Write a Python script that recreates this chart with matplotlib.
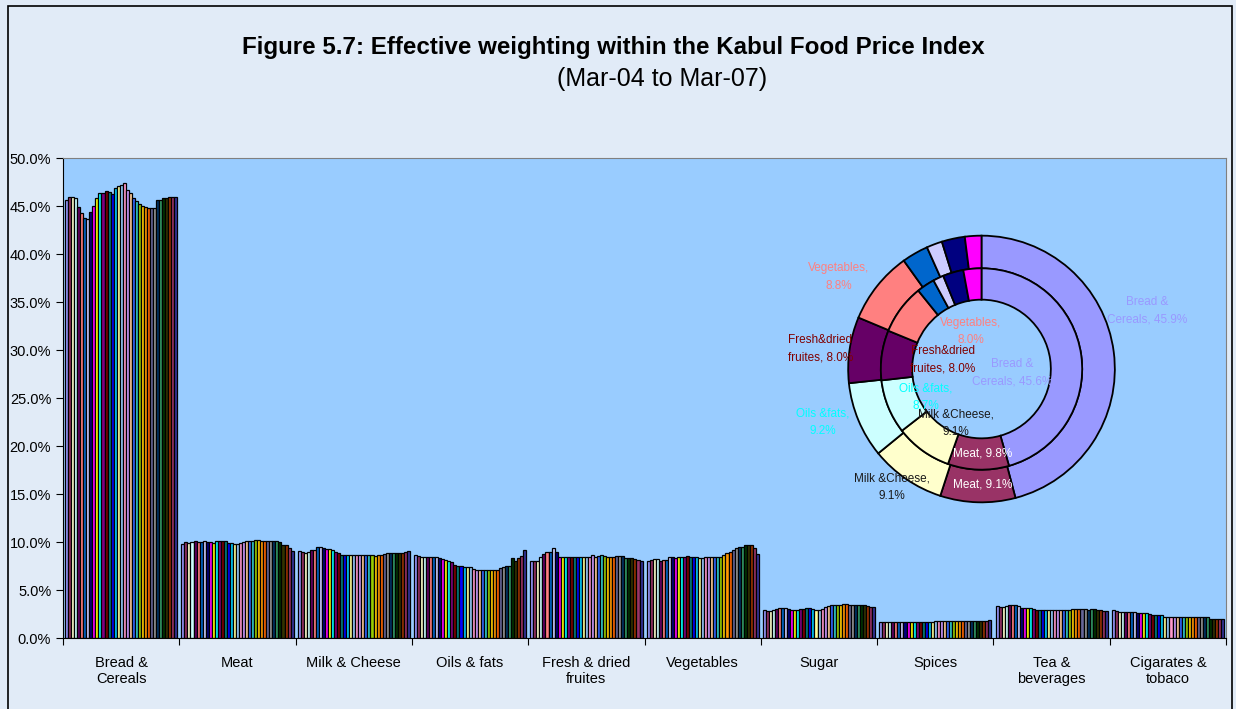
import numpy as np
import matplotlib
matplotlib.use("Agg")
from matplotlib import pyplot as plt
from matplotlib.patches import Rectangle
from matplotlib.ticker import FuncFormatter

plt.rcParams['font.family'] = ['Liberation Sans', 'DejaVu Sans']

categories = ["Bread &\nCereals", "Meat", "Milk & Cheese", "Oils & fats", "Fresh & dried\nfruites",
              "Vegetables", "Sugar", "Spices", "Tea &\nbeverages", "Cigarates &\ntobaco"]

# 37 monthly weights (Mar-04 .. Mar-07), in %
bread = [45.6, 46.0, 46.0, 45.8, 44.9, 44.3, 43.8, 43.7, 44.4, 45.0,
         45.8, 46.4, 46.4, 46.6, 46.5, 46.3, 46.9, 47.1, 47.2, 47.4,
         46.7, 46.4, 45.8, 45.5, 45.2, 45.0, 44.9, 44.8, 44.8, 44.8,
         45.6, 45.6, 45.8, 45.8, 45.9, 45.9, 45.9]
meat = [9.8, 10.0, 9.9, 10.0, 10.1, 10.0, 10.0, 10.1, 10.0, 10.0,
        9.9, 10.1, 10.1, 10.1, 10.1, 9.9, 9.9, 9.8, 9.8, 9.9,
        10.0, 10.1, 10.1, 10.1, 10.2, 10.2, 10.1, 10.1, 10.1, 10.1,
        10.1, 10.1, 10.0, 9.7, 9.7, 9.4, 9.1]
milk = [9.1, 9.0, 8.9, 9.0, 9.2, 9.2, 9.5, 9.5, 9.4, 9.3,
        9.3, 9.2, 9.0, 8.9, 8.7, 8.7, 8.7, 8.7, 8.7, 8.7,
        8.7, 8.7, 8.7, 8.7, 8.7, 8.6, 8.7, 8.7, 8.8, 8.9,
        8.9, 8.9, 8.9, 8.9, 8.9, 9.0, 9.1]
oils = [8.7, 8.6, 8.5, 8.5, 8.5, 8.5, 8.5, 8.4, 8.3, 8.2,
        8.1, 8.0, 7.9, 7.6, 7.5, 7.5, 7.4, 7.4, 7.4, 7.2,
        7.1, 7.1, 7.1, 7.1, 7.1, 7.1, 7.1, 7.1, 7.3, 7.4,
        7.5, 7.5, 8.3, 8.0, 8.3, 8.6, 9.2]
fresh = [8.0, 8.0, 8.0, 8.4, 8.8, 9.0, 9.0, 9.4, 9.0, 8.5,
         8.4, 8.4, 8.5, 8.5, 8.5, 8.5, 8.5, 8.5, 8.5, 8.5,
         8.7, 8.5, 8.6, 8.7, 8.6, 8.5, 8.4, 8.5, 8.6, 8.6,
         8.6, 8.3, 8.3, 8.3, 8.2, 8.1, 8.0]
veg = [8.0, 8.1, 8.2, 8.2, 8.0, 8.1, 8.1, 8.5, 8.4, 8.3,
       8.5, 8.5, 8.5, 8.6, 8.5, 8.5, 8.4, 8.3, 8.3, 8.4,
       8.4, 8.4, 8.5, 8.5, 8.5, 8.7, 8.9, 9.0, 9.2, 9.4,
       9.5, 9.5, 9.7, 9.7, 9.7, 9.4, 8.8]
sugar = [2.9, 2.8, 2.8, 2.9, 3.0, 3.1, 3.1, 3.1, 3.0, 2.9,
         2.9, 2.9, 3.0, 3.0, 3.1, 3.1, 3.0, 2.9, 2.9, 3.0,
         3.2, 3.3, 3.4, 3.4, 3.4, 3.5, 3.6, 3.6, 3.5, 3.5,
         3.5, 3.5, 3.4, 3.4, 3.3, 3.2, 3.2]
spices = [1.7, 1.7, 1.7, 1.7, 1.7, 1.7, 1.7, 1.7, 1.7, 1.7,
          1.7, 1.7, 1.7, 1.7, 1.7, 1.7, 1.7, 1.7, 1.8, 1.8,
          1.8, 1.8, 1.8, 1.8, 1.8, 1.8, 1.8, 1.8, 1.8, 1.8,
          1.8, 1.8, 1.8, 1.8, 1.8, 1.8, 1.9]
tea = [3.3, 3.2, 3.2, 3.3, 3.4, 3.4, 3.4, 3.3, 3.1, 3.1,
       3.1, 3.1, 3.0, 2.9, 2.9, 2.9, 2.9, 2.9, 2.9, 2.9,
       2.9, 2.9, 2.9, 2.9, 2.9, 3.0, 3.0, 3.0, 3.0, 3.0,
       2.9, 3.0, 3.0, 2.9, 2.9, 2.8, 2.8]
cig = [2.9, 2.8, 2.7, 2.7, 2.7, 2.7, 2.7, 2.7, 2.6, 2.6,
       2.6, 2.6, 2.5, 2.4, 2.4, 2.4, 2.4, 2.2, 2.2, 2.2,
       2.2, 2.2, 2.2, 2.2, 2.2, 2.2, 2.2, 2.2, 2.2, 2.2,
       2.2, 2.2, 2.0, 2.0, 2.0, 2.0, 2.0]

# excel-ish series palette
colors = ['#9999FF', '#993366', '#FFFFCC', '#CCFFFF', '#660066', '#FF8080', '#0066CC', '#CCCCFF',
          '#000080', '#FF00FF', '#FFFF00', '#00FFFF', '#800080', '#800000', '#008080', '#0000FF',
          '#00CCFF', '#FFFF99', '#99CCFF', '#FF99CC', '#CC99FF', '#FFCC99', '#3366FF', '#33CCCC',
          '#99CC00', '#FFCC00', '#FF9900', '#FF6600', '#666699', '#969696', '#003366', '#339966',
          '#003300', '#333300', '#993300', '#993366', '#333399']

donut_names = ["Bread &\nCereals", "Meat", "Milk &Cheese", "Oils &fats", "Fresh&dried\nfruites", "Vegetables"]
donut_label_colors = ['#9999FF', 'white', '#1a1a1a', '#00FFFF', '#800000', '#FF8080']
# label spots in donut axes units (radius 1 = outer edge)
outer_spots = [(1.24, 0.44), (0.01, -0.87), (-0.67, -0.89), (-1.19, -0.40), (-1.21, 0.15), (-1.07, 0.69)]
inner_spots = [(0.23, -0.03), (0.01, -0.63), (-0.19, -0.41), (-0.42, -0.21), (-0.29, 0.07), (-0.08, 0.28)]

data = np.array([bread, meat, milk, oils, fresh, veg, sugar, spices, tea, cig])
n_cat, n_months = data.shape

fig = plt.figure(figsize=(12.36, 7.09), dpi=100)
fig.patch.set_facecolor('#E1EBF7')
fig.patches.append(Rectangle((0.0065, -0.01), 0.9905, 1.0015, transform=fig.transFigure,
                             fill=False, edgecolor='black', linewidth=1.2))

ax = fig.add_axes([0.051, 0.100, 0.941, 0.677])
ax.set_facecolor('#99CCFF')

x = np.arange(n_cat)
w = 0.965 / n_months
for j in range(n_months):
    ax.bar(x + (j - (n_months - 1) / 2) * w, data[:, j], width=w,
           color=colors[j % len(colors)], edgecolor='black', linewidth=0.9)

ax.set_xlim(-0.5, n_cat - 0.5)
ax.set_ylim(0, 50)
ax.set_yticks(np.arange(0, 51, 5))
ax.yaxis.set_major_formatter(FuncFormatter(lambda v, p: f"{v:.1f}%"))
ax.set_xticks(np.arange(-0.5, n_cat, 1.0))
ax.set_xticklabels([])
ax.set_xticks(x, minor=True)
ax.set_xticklabels(categories, minor=True, fontsize=10.5)
ax.tick_params(axis='x', which='minor', length=0, pad=13)
ax.tick_params(axis='x', which='major', length=5, direction='out')
ax.tick_params(axis='y', labelsize=10.5, length=5, direction='out')
for s in ['top', 'right']:
    ax.spines[s].set_color('#808080')
ax.spines['left'].set_color('black')
ax.spines['bottom'].set_color('black')

fig.text(0.496, 0.933, "Figure 5.7: Effective weighting within the Kabul Food Price Index",
         ha='center', va='center', fontsize=17.4, fontweight='bold')
fig.text(0.536, 0.889, "(Mar-04 to Mar-07)", ha='center', va='center', fontsize=18)

# donut inset: inner ring = first month, outer ring = last month
cx, cy, r = 981.5, 369, 136
dax = fig.add_axes([(cx - r) / 1236, (709 - cy - r) / 709, 2 * r / 1236, 2 * r / 709])
dax.set_aspect('equal')
dax.axis('off')
first = data[:, 0]
last = data[:, -1]
dax.pie(last, radius=1.0, colors=colors[:n_cat], startangle=90, counterclock=False,
        wedgeprops=dict(width=0.245, edgecolor='black', linewidth=1.3))
dax.pie(first, radius=0.755, colors=colors[:n_cat], startangle=90, counterclock=False,
        wedgeprops=dict(width=0.235, edgecolor='black', linewidth=1.3))
dax.set_xlim(-1.02, 1.02)
dax.set_ylim(-1.02, 1.02)


def donut_label(name, share):
    if '\n' in name or name == 'Meat':
        return f"{name}, {share:.1f}%"
    return f"{name},\n{share:.1f}%"


for i, name in enumerate(donut_names):
    sh_out = last[i] / last.sum() * 100
    sh_in = first[i] / first.sum() * 100
    dax.text(*outer_spots[i], donut_label(name, sh_out), ha='center', va='center',
             color=donut_label_colors[i], fontsize=8.5, linespacing=1.6)
    dax.text(*inner_spots[i], donut_label(name, sh_in), ha='center', va='center',
             color=donut_label_colors[i], fontsize=8.5, linespacing=1.6)

plt.savefig("out.png", dpi=100, facecolor=fig.get_facecolor())
plt.close()
